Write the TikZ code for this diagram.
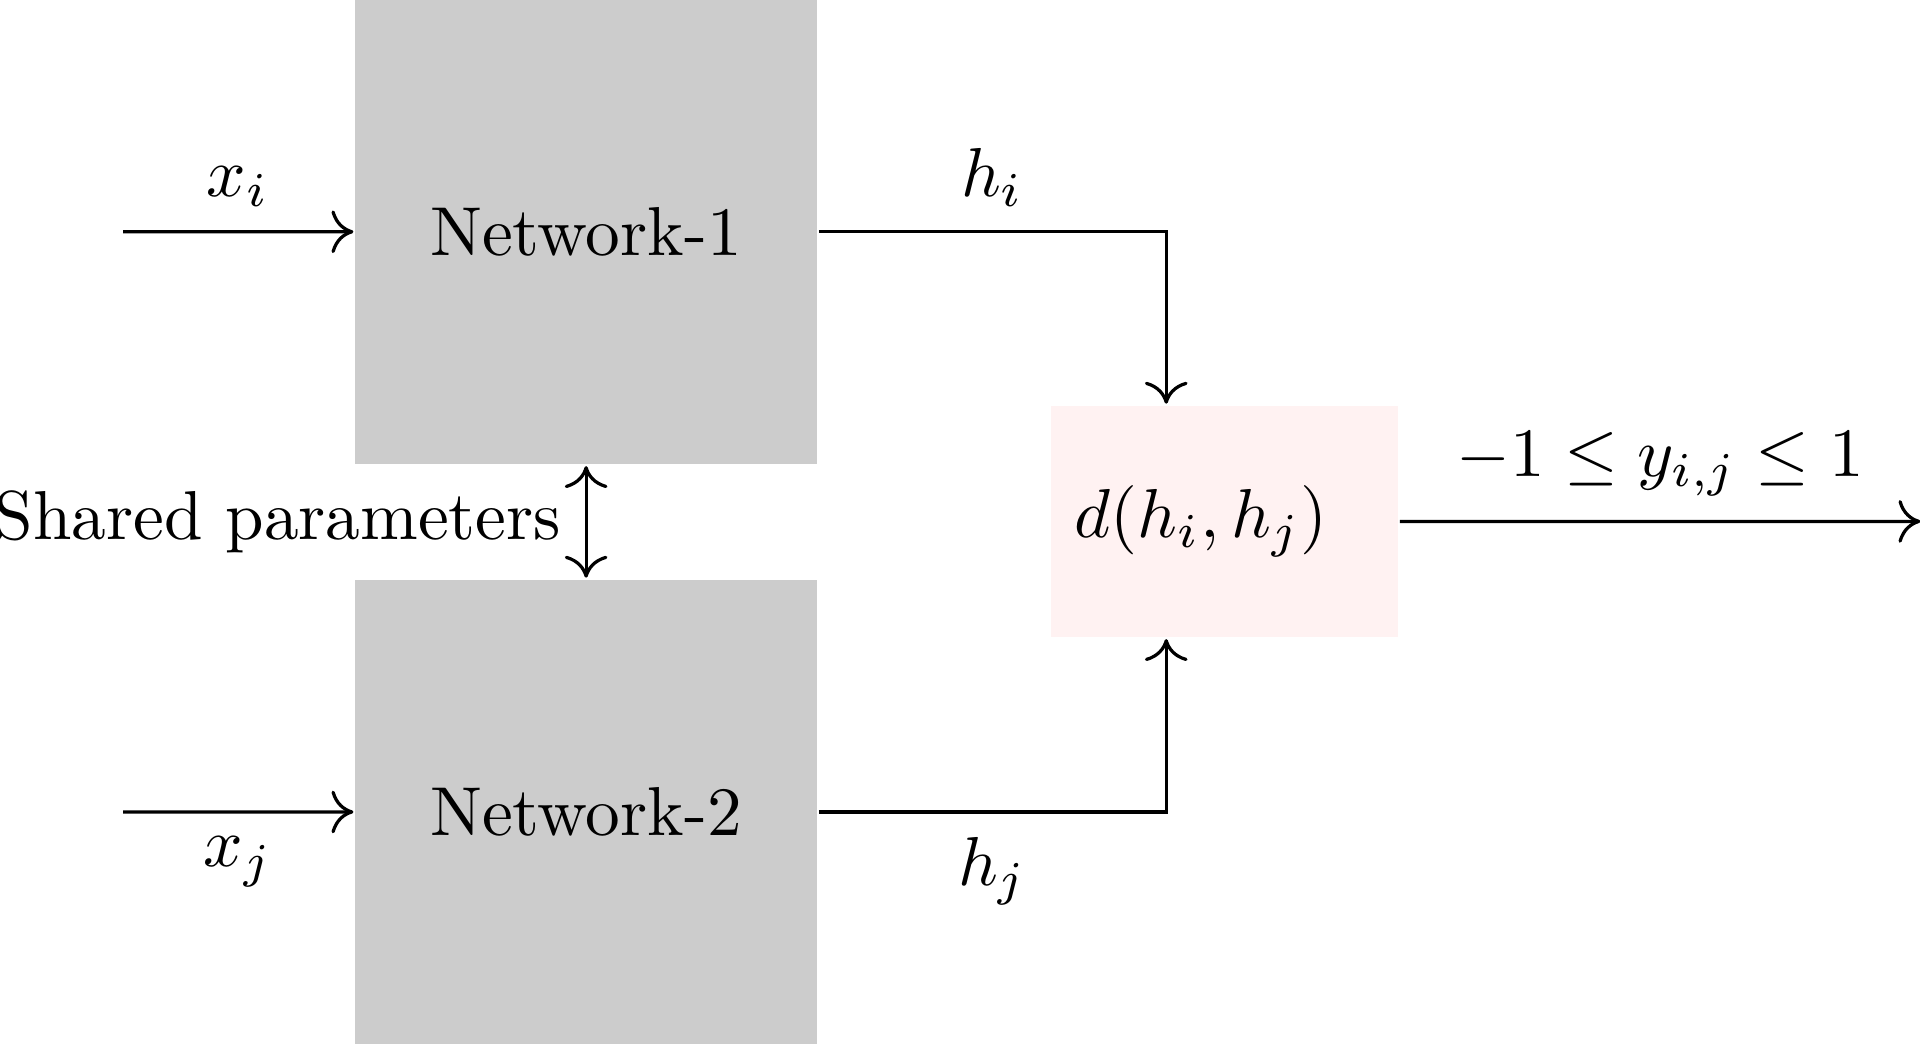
\documentclass[tikz,border=0pt]{standalone}
\usepackage{amsmath,amssymb}
\usepackage{tikz}
\usetikzlibrary{arrows.meta}

\begin{document}
\begin{tikzpicture}[x=0.5075cm,y=0.5075cm,scale=1.2,transform shape,line width=0.56pt,>={To[length=3.8pt,width=7.4pt]}]
        \useasboundingbox (0,0) rectangle (19.2,10.44);
        \node [fill=black!20, minimum width=2.342cm, minimum height=2.358cm] (net1) at (5.86,8.12) {Network-1};
        \node [fill=black!20, minimum width=2.342cm, minimum height=2.358cm] (net2) at (5.86,2.32) {Network-2};
        \node [fill=red!5, minimum width=1.758cm, minimum height=1.175cm, text width=1.523cm, align=left] (dist) at (12.245,5.225) {$d(h_i,h_j)$};
        \coordinate (xi) at (1.23,8.12);
        \coordinate (xj) at (1.23,2.32);
        \coordinate (hcol) at (11.66,5.225);
        \coordinate (out) at (19.2,5.225);
        \draw [->] (xi) -- (net1) node [midway, above] {$x_i$};
        \draw [->] (xj) -- (net2) node [midway, below] {$x_j$};
        \draw [->] (net1) -| (dist.north -| hcol) node [pos=0.25, above] {$h_i$};
        \draw [->] (net2) -| (dist.south -| hcol) node [pos=0.25, below] {$h_j$};
        \draw [->] (dist) -- (out) node [midway, above] {$-1 \leq y_{i,j} \leq 1$};
        \draw [<->] (net1.south) -- (net2.north) node [midway, left] {Shared parameters};
    \end{tikzpicture}
\end{document}
